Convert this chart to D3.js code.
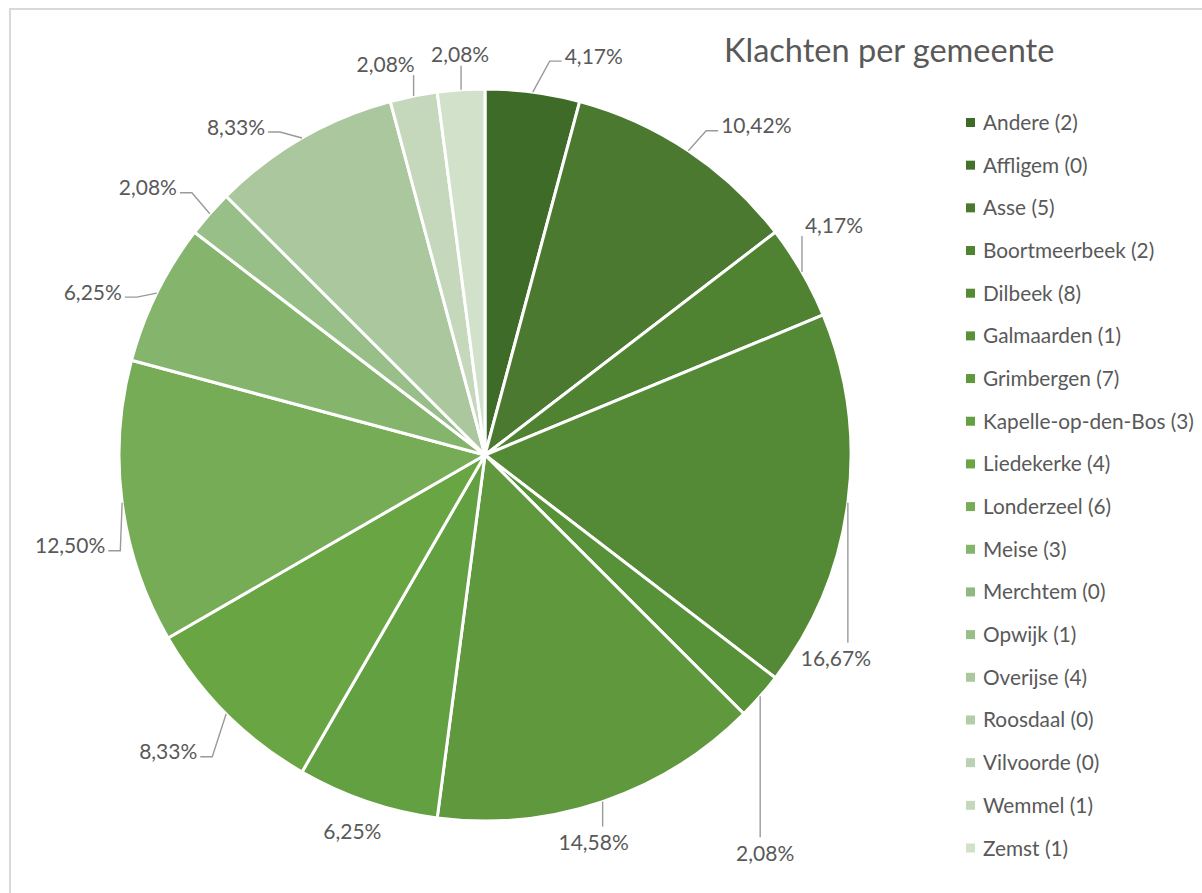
<!DOCTYPE html>
<html><head><meta charset="utf-8">
<script src="https://cdn.jsdelivr.net/npm/d3@7"></script>
<style>
body{margin:0;background:#fff;}
svg{display:block;}
text{font-family:Lato,"Open Sans",sans-serif;fill:#595959;}
</style>
</head><body>
<svg id="chart" width="1202" height="893"></svg>
<script>
// ---- data ----
const title = "Klachten per gemeente";
const categories = ["Andere","Affligem","Asse","Boortmeerbeek","Dilbeek","Galmaarden","Grimbergen","Kapelle-op-den-Bos","Liedekerke","Londerzeel","Meise","Merchtem","Opwijk","Overijse","Roosdaal","Vilvoorde","Wemmel","Zemst"];
const counts = [2,0,5,2,8,1,7,3,4,6,3,0,1,4,0,0,1,1];
const colors = ["#3f6b28","#44722b","#4a792f","#4f8231","#548a35","#589238","#5f983d","#63a041","#6aa544","#77ac57","#85b46c","#8fb97d","#99bf89","#abc79e","#b4cca8","#bcd1b2","#c5d8bc","#d2e1ca"];

// ---- layout (label text centre offset from the slice mid-point on the rim) ----
const labelLayout = {
  "Andere":{dx:61,dy:-36}, "Asse":{dx:68,dy:-25}, "Boortmeerbeek":{dx:32,dy:-47},
  "Dilbeek":{dx:-12,dy:156}, "Galmaarden":{dx:5,dy:157}, "Grimbergen":{dx:-9,dy:41},
  "Kapelle-op-den-Bos":{dx:-15,dy:30,noLeader:true}, "Liedekerke":{dx:-58,dy:38},
  "Londerzeel":{dx:-52,dy:43}, "Meise":{dx:-64,dy:-1}, "Opwijk":{dx:-62,dy:-26},
  "Overijse":{dx:-66,dy:-11}, "Wemmel":{dx:-28,dy:-32}, "Zemst":{dx:-1,dy:-35}
};

const W = 1202, H = 893;
const cx = 485, cy = 455, R = 366;
const svg = d3.select("#chart");

// frame
svg.append("rect").attr("x",10).attr("y",9).attr("width",1400).attr("height",1200)
  .attr("fill","#fff").attr("stroke","#d9d9d9").attr("stroke-width",2);

const data = categories.map((c,i)=>({cat:c,count:counts[i],color:colors[i]}));
const total = d3.sum(counts);
const pie = d3.pie().sort(null).value(d=>d.count);
const arcs = pie(data).filter(d=>d.data.count>0);
const arc = d3.arc().innerRadius(0).outerRadius(R);
const rim = d3.arc().innerRadius(R).outerRadius(R);

const g = svg.append("g").attr("transform",`translate(${cx},${cy})`);
g.selectAll("path.slice").data(arcs).join("path")
  .attr("class","slice")
  .attr("d",arc)
  .attr("fill",d=>d.data.color)
  .attr("stroke","#fff").attr("stroke-width",3).attr("stroke-linejoin","round");

// labels
const fmt = v => (v/total*100).toFixed(2).replace(".",",")+"%";
const labFS = 21;
const lg = g.append("g");
arcs.forEach(d=>{
  const L = labelLayout[d.data.cat];
  const P = rim.centroid(d);
  const c = {x:P[0]+L.dx, y:P[1]+L.dy};
  const t = lg.append("text").attr("x",c.x).attr("y",c.y).attr("dy","0.36em")
    .attr("text-anchor","middle").attr("font-size",labFS).text(fmt(d.data.count));
  if (L.noLeader) return;
  const w = t.node().getComputedTextLength();
  const left = c.x - w/2 - 3, right = c.x + w/2 + 3;
  const top = c.y - 16, bottom = c.y + 11;
  let pts;
  if (P[0] >= left - 4 && P[0] <= right + 4) {
    pts = [[P[0],P[1]],[P[0], P[1] < c.y ? top : bottom]];
  } else {
    const ax = P[0] > right ? right : left;
    const ay = c.y + 5;
    const ex = P[0] > right ? ax + 12 : ax - 12;
    pts = [[P[0],P[1]],[ex,ay],[ax,ay]];
  }
  lg.append("path").attr("d",d3.line()(pts)).attr("fill","none")
    .attr("stroke","#9a9a9a").attr("stroke-width",1.4);
});

// title
svg.append("text").attr("x",724).attr("y",62).attr("font-size",32.5).text(title);

// legend
const legY = d3.scalePoint().domain(categories).range([122.5,848]);
const leg = svg.append("g").selectAll("g").data(data).join("g")
  .attr("transform",d=>`translate(966,${legY(d.cat)})`);
leg.append("rect").attr("x",0).attr("y",-4.5).attr("width",9).attr("height",9).attr("fill",d=>d.color);
leg.append("text").attr("x",17).attr("y",0).attr("dy","0.36em").attr("font-size",20.8)
  .text(d=>`${d.cat} (${d.count})`);
</script>
</body></html>
